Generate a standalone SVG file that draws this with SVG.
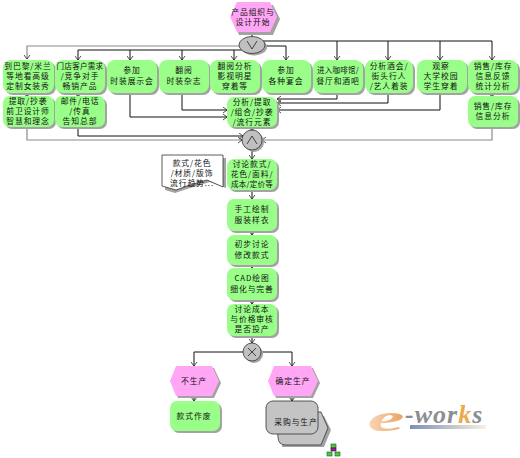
<svg xmlns="http://www.w3.org/2000/svg" width="520" height="458" viewBox="0 0 520 458">
<defs>
<style>
text{font-family:"Noto Sans CJK SC","Liberation Sans",sans-serif;font-size:7.800px;letter-spacing:.9px;fill:#111;text-anchor:middle}
.w{font-size:7.500px;letter-spacing:.3px}
.f{fill:#99ff88}
.s{fill:#a3a3a3}
.h{fill:#ffa6f5}
.g{fill:#c0c0c0;stroke:#333;stroke-width:.8}
.k{fill:none;stroke:#111;stroke-width:1}
.y{fill:none;stroke:#8a8a8a;stroke-width:1.2}
</style>
<marker id="a" markerWidth="7" markerHeight="6" refX="3.5" refY="5" orient="0" markerUnits="userSpaceOnUse" viewBox="0 0 7 6"><path d="M.5 1 3.5 5 6.500 1" fill="none" stroke="#222" stroke-width=".8"/></marker>
<marker id="r" markerWidth="6" markerHeight="7" refX="5" refY="3.500" orient="0" markerUnits="userSpaceOnUse" viewBox="0 0 6 7"><path d="M1 .5 5 3.500 1 6.500" fill="none" stroke="#222" stroke-width=".8"/></marker>
<marker id="l" markerWidth="6" markerHeight="7" refX="1" refY="3.500" orient="0" markerUnits="userSpaceOnUse" viewBox="0 0 6 7"><path d="M5 .5 1 3.500 5 6.500" fill="none" stroke="#222" stroke-width=".8"/></marker>
<linearGradient id="lg" x1="0" x2="1" y1="0" y2="0"><stop offset="0" stop-color="#7f8fb5"/><stop offset="1" stop-color="#f5f2e4"/></linearGradient>
<linearGradient id="eg" x1="0" x2="1" y1="0" y2="0"><stop offset="0" stop-color="#f8d9bb"/><stop offset="1" stop-color="#eda05c"/></linearGradient>
</defs>

<g id="connectors">
<path class="k" d="M252 32V37"/>
<path class="y" d="M240 46H27V59" marker-end="url(#a)"/>
<path class="k" d="M243 50H78V60" marker-end="url(#a)"/>
<path class="k" d="M130 50V60" marker-end="url(#a)"/>
<path class="k" d="M182 50V60" marker-end="url(#a)"/>
<path class="k" d="M234 50V60" marker-end="url(#a)"/>
<path class="k" d="M264 46H286V60" marker-end="url(#a)"/>
<path class="k" d="M262 41H492V60" marker-end="url(#a)"/>
<path class="k" d="M337 41V60" marker-end="url(#a)"/>
<path class="k" d="M388 41V60" marker-end="url(#a)"/>
<path class="k" d="M440 41V60" marker-end="url(#a)"/>
<path class="k" d="M27 93V97" marker-end="url(#a)"/>
<path class="k" d="M78 93V97" marker-end="url(#a)"/>
<path class="k" d="M492 93V97" marker-end="url(#a)"/>
<path class="k" d="M130 93V117H227" marker-end="url(#r)"/>
<path class="k" d="M182 93V110H227" marker-end="url(#r)"/>
<path class="k" d="M337 93V99H277" marker-end="url(#l)"/>
<path class="k" d="M388 93V103H277" marker-end="url(#l)"/>
<path class="k" d="M440 93V110H277" marker-end="url(#l)"/>
<path class="k" d="M252 127V131" marker-end="url(#a)"/>
<path class="y" d="M27 127V140H242" marker-end="url(#r)"/>
<path class="k" d="M78 127V136H243" marker-end="url(#r)"/>
<path class="y" d="M492 127V140H262" marker-end="url(#l)"/>
<path class="k" d="M252 150V159" marker-end="url(#a)"/>
<path class="k" stroke-dasharray="2 2" d="M223 174H227"/>
<path class="k" d="M252 190V199" marker-end="url(#a)"/>
<path class="k" d="M252 231V235" marker-end="url(#a)"/>
<path class="k" d="M252 265V268" marker-end="url(#a)"/>
<path class="k" d="M252 300V304" marker-end="url(#a)"/>
<path class="k" d="M252 336V343" marker-end="url(#a)"/>
<path class="k" d="M243 352H194V366" marker-end="url(#a)"/>
<path class="k" d="M261 352H292V366" marker-end="url(#a)"/>
<path class="k" d="M194 396V401" marker-end="url(#a)"/>
<path class="k" d="M292 396V401" marker-end="url(#a)"/>
</g>

<g id="start"><path class="s" d="M239 5H273L280 19 273 35H239L232 19Z"/><path class="h" d="M237 2H270L277 17 270 32H237L230 17Z"/><text x="253" y="15">产品组织与</text><text x="253" y="25">设计开始</text></g>
<g id="gw1"><ellipse class="s" cx="254" cy="47" rx="13" ry="8.500"/><ellipse class="g" cx="252" cy="45" rx="13" ry="8.500"/><path d="M247 41 252 49 257 41" fill="none" stroke="#222" stroke-width=".8"/></g>

<g id="n1"><rect class="s" x="5" y="62" width="51" height="33" rx="8"/><rect class="f" x="3" y="60" width="51" height="33" rx="8"/><text x="28" y="69">到巴黎/米兰</text><text x="28" y="79">等地看高级</text><text x="28" y="89">定制女装秀</text></g>
<g id="n2"><rect class="s" x="57" y="62" width="50" height="33" rx="8"/><rect class="f" x="55" y="60" width="50" height="33" rx="8"/><text class="w" x="80" y="69">门店客户需求</text><text x="80" y="79">/竞争对手</text><text x="80" y="89">畅销产品</text></g>
<g id="n3"><rect class="s" x="109" y="62" width="50" height="33" rx="8"/><rect class="f" x="107" y="60" width="50" height="33" rx="8"/><text x="132" y="73">参加</text><text x="132" y="84">时装展示会</text></g>
<g id="n4"><rect class="s" x="161" y="62" width="50" height="33" rx="8"/><rect class="f" x="159" y="60" width="50" height="33" rx="8"/><text x="184" y="73">翻阅</text><text x="184" y="84">时装杂志</text></g>
<g id="n5"><rect class="s" x="212" y="62" width="50" height="33" rx="8"/><rect class="f" x="210" y="60" width="50" height="33" rx="8"/><text x="235" y="69">翻阅分析</text><text x="235" y="79">影视明星</text><text x="235" y="89">穿着等</text></g>
<g id="n6"><rect class="s" x="264" y="62" width="49" height="33" rx="8"/><rect class="f" x="262" y="60" width="49" height="33" rx="8"/><text x="286" y="73">参加</text><text x="286" y="84">各种宴会</text></g>
<g id="n7"><rect class="s" x="315" y="62" width="50" height="33" rx="8"/><rect class="f" x="313" y="60" width="50" height="33" rx="8"/><text class="w" x="338" y="73">进入咖啡馆/</text><text x="338" y="84">餐厅和酒吧</text></g>
<g id="n8"><rect class="s" x="367" y="62" width="48" height="33" rx="8"/><rect class="f" x="365" y="60" width="48" height="33" rx="8"/><text x="389" y="69">分析酒会/</text><text x="389" y="79">街头行人</text><text x="389" y="89">/艺人着装</text></g>
<g id="n9"><rect class="s" x="419" y="62" width="50" height="33" rx="8"/><rect class="f" x="417" y="60" width="50" height="33" rx="8"/><text x="441" y="69">观察</text><text x="441" y="79">大学校园</text><text x="441" y="89">学生穿着</text></g>
<g id="n10"><rect class="s" x="470" y="62" width="50" height="33" rx="8"/><rect class="f" x="468" y="60" width="50" height="33" rx="8"/><text x="493" y="69">销售/库存</text><text x="493" y="79">信息反馈</text><text x="493" y="89">统计分析</text></g>

<g id="n1b"><rect class="s" x="5" y="98" width="51" height="31" rx="7"/><rect class="f" x="3" y="96" width="51" height="31" rx="7"/><text x="28" y="104">提取/抄袭</text><text x="28" y="114">前卫设计师</text><text x="28" y="124">智慧和理念</text></g>
<g id="n2b"><rect class="s" x="57" y="98" width="50" height="31" rx="7"/><rect class="f" x="55" y="96" width="50" height="31" rx="7"/><text x="80" y="104">邮件/电话</text><text x="80" y="114">/传真</text><text x="80" y="124">告知总部</text></g>
<g id="n10b"><rect class="s" x="470" y="98" width="50" height="31" rx="7"/><rect class="f" x="468" y="96" width="50" height="31" rx="7"/><text x="493" y="109">销售/库存</text><text x="493" y="119">信息分析</text></g>
<g id="center"><rect class="s" x="229" y="99" width="50" height="30" rx="7"/><rect class="f" x="227" y="97" width="50" height="30" rx="7"/><text x="252" y="105">分析/提取</text><text x="252" y="115">/组合/抄袭</text><text x="252" y="125">/流行元素</text></g>
<g id="gw2"><ellipse class="s" cx="254" cy="142" rx="10" ry="10"/><ellipse class="g" cx="252" cy="140" rx="10" ry="10"/><path d="M247 144 252 136 257 144" fill="none" stroke="#222" stroke-width=".8"/></g>

<g id="doc"><path class="s" d="M165 158H226V188L210 182 190 188 175 193 165 190Z"/><path fill="#fff" stroke="#333" stroke-width=".8" d="M162 155H223V187L207 180 187 186 176 190 162 186Z"/><text x="192" y="166">款式/花色</text><text x="192" y="176">/材质/版饰</text><text x="192" y="186">流行趋势...</text></g>
<g id="n11"><rect class="s" x="229" y="161" width="50" height="31" rx="7"/><rect class="f" x="227" y="159" width="50" height="31" rx="7"/><text x="252" y="167">讨论款式/</text><text x="252" y="177">花色/面料/</text><text class="w" x="252" y="187">成本/定价等</text></g>
<g id="n12"><rect class="s" x="229" y="201" width="50" height="32" rx="7"/><rect class="f" x="227" y="199" width="50" height="32" rx="7"/><text x="252" y="212">手工绘制</text><text x="252" y="223">服装样衣</text></g>
<g id="n13"><rect class="s" x="229" y="237" width="50" height="30" rx="7"/><rect class="f" x="227" y="235" width="50" height="30" rx="7"/><text x="252" y="247">初步讨论</text><text x="252" y="258">修改款式</text></g>
<g id="n14"><rect class="s" x="229" y="270" width="50" height="32" rx="7"/><rect class="f" x="227" y="268" width="50" height="32" rx="7"/><text x="252" y="281">CAD绘图</text><text x="252" y="292">细化与完善</text></g>
<g id="n15"><rect class="s" x="229" y="306" width="50" height="32" rx="7"/><rect class="f" x="227" y="304" width="50" height="32" rx="7"/><text x="252" y="312">讨论成本</text><text x="252" y="322">与价格审核</text><text x="252" y="332">是否投产</text></g>
<g id="gw3"><ellipse class="s" cx="254" cy="354" rx="9" ry="9"/><ellipse class="g" cx="252" cy="352" rx="9" ry="9"/><path d="M248 348 256 356M256 348 248 356" fill="none" stroke="#222" stroke-width=".8"/></g>

<g id="e1"><path class="s" d="M178 368H214L221 383 214 398H178L172 383Z"/><path class="h" d="M176 366H212L219 381 212 396H176L170 381Z"/><text x="194" y="384">不生产</text></g>
<g id="e2"><path class="s" d="M276 368H313L320 383 313 398H276L270 383Z"/><path class="h" d="M274 366H311L318 381 311 396H274L268 381Z"/><text x="293" y="384">确定生产</text></g>
<g id="n16"><rect class="s" x="172" y="403" width="50" height="30" rx="7"/><rect class="f" x="170" y="401" width="50" height="30" rx="7"/><text x="194" y="419">款式作废</text></g>
<g id="n17">
<path fill="#a3a3a3" d="M282 416H324L331 430 324 447H282Z"/>
<path fill="#c4c4c4" stroke="#333" stroke-width=".8" d="M276 412H321L328 428 321 445H286Q278 445 278 437Z"/>
<rect fill="#c4c4c4" stroke="#333" stroke-width=".8" x="266" y="401" width="52" height="33" rx="7"/>
<text x="296" y="425">采购与生产</text>
</g>
<g id="icon"><rect x="331" y="444" width="5" height="4" fill="#5fbf3a" stroke="#063" stroke-width=".6"/><rect x="331" y="448" width="5" height="3" fill="#a020a0" stroke="#303" stroke-width=".6"/><rect x="327" y="452" width="5" height="4" fill="#5fbf3a" stroke="#063" stroke-width=".6"/><rect x="335" y="452" width="5" height="4" fill="#5fbf3a" stroke="#063" stroke-width=".6"/></g>

<g id="logo">
<rect x="410" y="425" width="76" height="4" fill="url(#lg)"/>
<text transform="translate(386 431) scale(2.200 1)" x="0" y="0" style="font-family:'Liberation Serif',serif;font-size:38px;font-style:italic;font-weight:bold;letter-spacing:0;fill:url(#eg)">e</text>
<text x="405" y="423" style="font-family:'Liberation Serif',serif;font-size:26px;font-style:italic;font-weight:bold;letter-spacing:1px;fill:#8a8f94;text-anchor:start">-wor<tspan fill="#eda94e">k</tspan>s</text>
</g>
</svg>
